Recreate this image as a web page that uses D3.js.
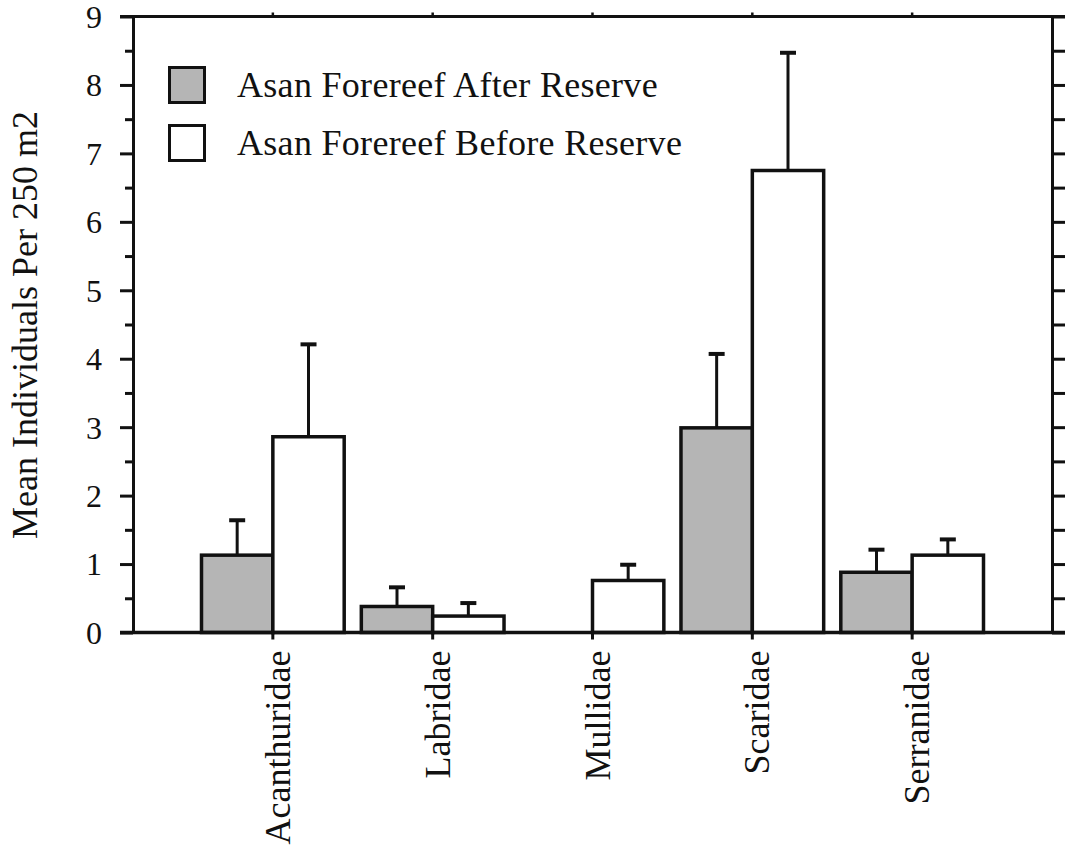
<!DOCTYPE html>
<html>
<head>
<meta charset="utf-8">
<script src="https://cdn.jsdelivr.net/npm/d3@7"></script>
<style>
  body { margin: 0; background: #fff; }
  text { font-family: "Liberation Serif", "Times New Roman", serif; fill: #111; }
</style>
</head>
<body>
<div id="chart"></div>
<script>
const families = ['Acanthuridae', 'Labridae', 'Mullidae', 'Scaridae', 'Serranidae'];
const seriesNames = ['Asan Forereef After Reserve', 'Asan Forereef Before Reserve'];
const afterMean = [1.13, 0.38, 0, 2.99, 0.88];
const afterErr = [0.51, 0.28, 0, 1.08, 0.33];
const beforeMean = [2.86, 0.24, 0.76, 6.75, 1.13];
const beforeErr = [1.35, 0.19, 0.23, 1.72, 0.23];
const yTicks = [0, 1, 2, 3, 4, 5, 6, 7, 8, 9];

const W = 1065, H = 851;
const plot = { left: 133, right: 1052, top: 16.5, bottom: 632.5 };

const svg = d3.select("#chart").append("svg")
    .attr("width", W)
    .attr("height", H);

const x = d3.scaleBand()
    .domain(families)
    .range([plot.left, plot.right])
    .paddingInner(0)
    .paddingOuter(0.375);

const xSub = d3.scaleBand()
    .domain(['after', 'before'])
    .range([0, x.bandwidth()])
    .paddingInner(0)
    .paddingOuter(0.12);

const y = d3.scaleLinear()
    .domain([0, 9])
    .range([plot.bottom, plot.top]);

const rows = families.map((f, i) => ({
    family: f,
    bars: [
        { key: 'after', mean: afterMean[i], err: afterErr[i] },
        { key: 'before', mean: beforeMean[i], err: beforeErr[i] }
    ]
}));
const fills = { after: '#b5b5b5', before: '#ffffff' };

// bars + error bars
const groups = svg.selectAll(".grp")
    .data(rows)
  .enter().append("g")
    .attr("class", "grp")
    .attr("transform", d => "translate(" + x(d.family) + ",0)");

const bar = groups.selectAll(".bar")
    .data(d => d.bars.filter(b => b.mean > 0))
  .enter().append("g")
    .attr("class", "bar");

bar.append("line")
    .attr("x1", d => xSub(d.key) + xSub.bandwidth() / 2)
    .attr("x2", d => xSub(d.key) + xSub.bandwidth() / 2)
    .attr("y1", d => y(d.mean))
    .attr("y2", d => y(d.mean + d.err))
    .attr("stroke", "#111")
    .attr("stroke-width", 3);

bar.append("line")
    .attr("x1", d => xSub(d.key) + xSub.bandwidth() / 2 - 8)
    .attr("x2", d => xSub(d.key) + xSub.bandwidth() / 2 + 8)
    .attr("y1", d => y(d.mean + d.err))
    .attr("y2", d => y(d.mean + d.err))
    .attr("stroke", "#111")
    .attr("stroke-width", 4);

bar.append("rect")
    .attr("x", d => xSub(d.key))
    .attr("y", d => y(d.mean))
    .attr("width", xSub.bandwidth())
    .attr("height", d => y(0) - y(d.mean))
    .attr("fill", d => fills[d.key])
    .attr("stroke", "#111")
    .attr("stroke-width", 3.5);

// left axis, major + minor ticks
const yAxis = svg.append("g")
    .attr("transform", "translate(" + plot.left + ",0)")
    .call(d3.axisLeft(y).tickValues(yTicks).tickSize(13).tickSizeOuter(0).tickPadding(18));
yAxis.selectAll("path, line").attr("stroke", "#111").attr("stroke-width", 3);
yAxis.selectAll("text").style("font-size", "32px").attr("dy", "0.34em")
    .style("font-family", '"Liberation Serif", serif');

const minorTicks = yTicks.slice(0, -1).map(v => v + 0.5);
svg.append("g")
    .attr("transform", "translate(" + plot.left + ",0)")
    .call(d3.axisLeft(y).tickValues(minorTicks).tickSize(8).tickFormat(""))
    .call(g => g.select(".domain").remove())
    .selectAll("line").attr("stroke", "#111").attr("stroke-width", 3);

// right axis
const rAxis = svg.append("g")
    .attr("transform", "translate(" + plot.right + ",0)")
    .call(d3.axisRight(y).tickValues(yTicks.concat(minorTicks)).tickSize(13).tickSizeOuter(0).tickFormat(""));
rAxis.selectAll("path, line").attr("stroke", "#111").attr("stroke-width", 3);

// bottom and top axes
svg.append("line")
    .attr("x1", 120).attr("x2", W)
    .attr("y1", plot.bottom).attr("y2", plot.bottom)
    .attr("stroke", "#111").attr("stroke-width", 3.5);
svg.append("line")
    .attr("x1", 120).attr("x2", W)
    .attr("y1", plot.top).attr("y2", plot.top)
    .attr("stroke", "#111").attr("stroke-width", 3);

const xAxis = svg.append("g")
    .attr("transform", "translate(0," + plot.bottom + ")")
    .call(d3.axisBottom(x).tickSize(7).tickSizeOuter(0).tickFormat(""))
    .call(g => g.select(".domain").remove());
xAxis.selectAll("line").attr("stroke", "#111").attr("stroke-width", 3);

svg.append("g")
    .attr("transform", "translate(0," + plot.top + ")")
    .call(d3.axisTop(x).tickSize(4).tickSizeOuter(0).tickFormat(""))
    .call(g => g.select(".domain").remove())
    .selectAll("line").attr("stroke", "#111").attr("stroke-width", 2.5);

// category labels, rotated
svg.selectAll(".xlab")
    .data(families)
  .enter().append("text")
    .attr("class", "xlab")
    .attr("transform", d => "translate(" + (x(d) + x.bandwidth() / 2 + 17) + "," + (plot.bottom + 18) + ") rotate(-90)")
    .attr("text-anchor", "end")
    .style("font-size", "36px")
    .text(d => d);

// y title
svg.append("text")
    .attr("transform", "translate(37,325) rotate(-90)")
    .attr("text-anchor", "middle")
    .style("font-size", "36px")
    .text("Mean Individuals Per 250 m2");

// legend
const legend = svg.selectAll(".legend")
    .data(seriesNames)
  .enter().append("g")
    .attr("class", "legend")
    .attr("transform", (d, i) => "translate(168," + (66 + i * 58) + ")");

legend.append("rect")
    .attr("x", 1.5).attr("y", 1.5)
    .attr("width", 35).attr("height", 35)
    .attr("fill", (d, i) => i === 0 ? fills.after : fills.before)
    .attr("stroke", "#111")
    .attr("stroke-width", 3);

legend.append("text")
    .attr("x", 69)
    .attr("y", 31)
    .style("font-size", "36px")
    .style("letter-spacing", "0.3px")
    .text(d => d);
</script>
</body>
</html>
